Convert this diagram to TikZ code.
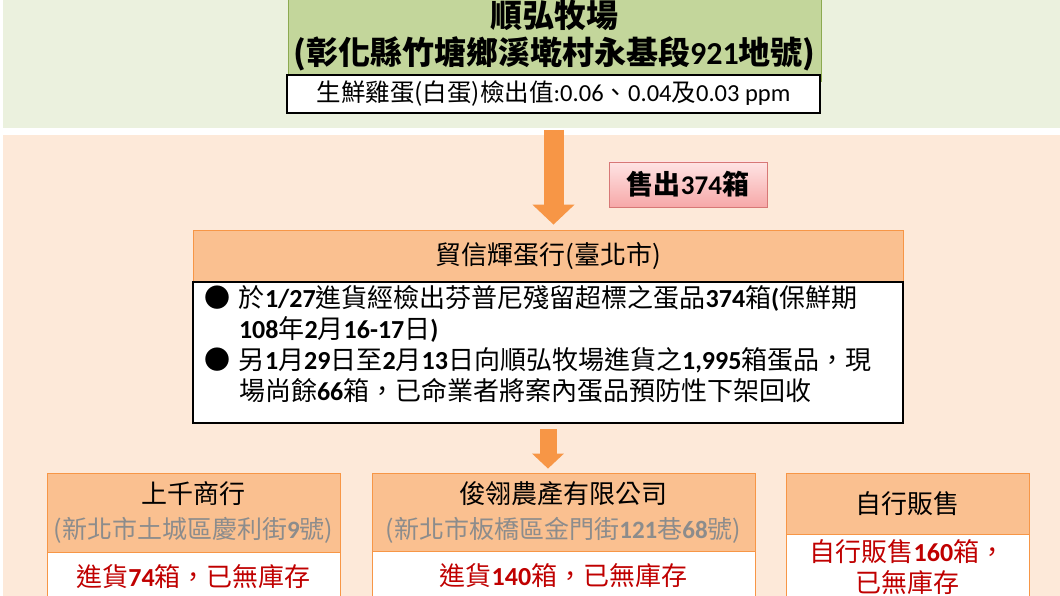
\documentclass[tikz,border=0pt]{standalone}
\usepackage{fontspec}
\setmainfont{Noto Sans CJK TC}[Script=CJK, Language=Chinese Traditional]
\newfontfamily\latfont{Carlito}
\usetikzlibrary{arrows.meta}

\definecolor{bandgreen}{RGB}{235,241,222}
\definecolor{bandpeach}{RGB}{253,233,217}
\definecolor{farmfill}{RGB}{195,214,155}
\definecolor{farmedge}{RGB}{140,170,80}
\definecolor{orangefill}{RGB}{250,192,144}
\definecolor{orangeedge}{RGB}{247,150,70}
\definecolor{pinktop}{RGB}{255,228,228}
\definecolor{pinkbot}{RGB}{246,168,168}
\definecolor{pinkedge}{RGB}{215,120,118}
\definecolor{redtext}{RGB}{192,0,0}
\definecolor{graytext}{RGB}{140,140,140}

\newcommand{\digb}[1]{{\latfont\bfseries #1}}
\newcommand{\digr}[1]{{\latfont #1}}

\begin{document}
\begin{tikzpicture}[x=1pt, y=-1pt,
    headbox/.style={draw=orangeedge, fill=orangefill, line width=0.8pt, inner sep=0pt, align=center},
    notebox/.style={draw=orangeedge, fill=white, line width=0.8pt, inner sep=0pt, align=center, text=redtext, font=\fontsize{26}{31}\selectfont},
    framebox/.style={draw=black, fill=white, line width=2pt, inner sep=0pt}
  ]
    \useasboundingbox (0,0) rectangle (1060,596);
    \clip (0,0) rectangle (1060,596);

    % background bands
    \fill[bandgreen] (3,0) rectangle (1060,128);
    \fill[bandpeach] (3,135) rectangle (1060,596);

    % farm
    \node[draw=farmedge, fill=farmfill, line width=0.8pt, minimum width=533pt, minimum height=91pt, align=center, font=\fontsize{32}{37}\selectfont\bfseries] (farm) at (554.5,35.5) {順弘牧場\\(彰化縣竹塘鄉溪墘村永基段\digb{921}地號)};
    \node[framebox, minimum width=533pt, minimum height=38pt, font=\fontsize{24.5}{28}\selectfont] (farmval) at (553.5,94) {生鮮雞蛋(白蛋)檢出值\digr{:0.06}、\digr{0.04}及\digr{0.03 ppm}};

    \node[draw=pinkedge, top color=pinktop, bottom color=pinkbot, line width=0.8pt, minimum width=158pt, minimum height=45pt, inner sep=0pt, font=\fontsize{27}{30}\selectfont\bfseries] (sold) at (688,184.5) {售出\digb{374}箱};

    % trader
    \node[headbox, minimum width=710pt, minimum height=52pt, font=\fontsize{26}{30}\selectfont] (trader) at (548,256) {貿信輝蛋行(臺北市)};
    \node[framebox, minimum width=710pt, minimum height=141pt, text width=688pt, inner xsep=11pt, align=left, font=\fontsize{26}{30.5}\selectfont] (traderinfo) at (548,352.5) {%
        \vspace*{10pt}%
        \begin{tabular}{@{}l@{\hspace{9pt}}l@{}}
        ● & 於\digb{1/27}進貨經檢出芬普尼殘留超標之蛋品\digb{374}箱\digb{(}保鮮期\\
          & \digb{108}年\digb{2}月\digb{16-17}日\digb{)}\\
        ● & 另\digb{1}月\digb{29}日至\digb{2}月\digb{13}日向順弘牧場進貨之\digb{1,995}箱蛋品，現\\
          & 場尚餘\digb{66}箱，已命業者將案內蛋品預防性下架回收
        \end{tabular}};

    % buyers
    \node[notebox, minimum width=293pt, minimum height=50pt] (buyAnote) at (193.5,577) {進貨\digb{74}箱，已無庫存};
    \node[headbox, minimum width=293pt, minimum height=79pt, font=\fontsize{25}{35}\selectfont] (buyA) at (193.5,512.5) {{\fontsize{26}{35}\selectfont 上千商行}\\{\color{graytext}(新北市土城區慶利街\digb{9}號)}};

    \node[notebox, minimum width=383pt, minimum height=50pt] (buyBnote) at (563.5,576) {進貨\digb{140}箱，已無庫存};
    \node[headbox, minimum width=383pt, minimum height=78pt, font=\fontsize{25}{35}\selectfont] (buyB) at (563.5,512) {{\fontsize{26}{35}\selectfont 俊翎農產有限公司}\\{\color{graytext}(新北市板橋區金門街\digb{121}巷\digb{68}號)}};

    \node[notebox, minimum width=243pt, minimum height=66pt] (buyCnote) at (907.5,567) {自行販售\digb{160}箱，\\已無庫存};
    \node[headbox, minimum width=243pt, minimum height=61pt, font=\fontsize{26}{30}\selectfont] (buyC) at (907.5,503.5) {自行販售};

    % arrows
    \draw[orangeedge, line width=20pt, -{Triangle[length=20pt, width=41pt]}, shorten <=16pt, shorten >=5pt] (farmval.south) -- (farmval.south |- trader.north);
    \draw[orangeedge, line width=17pt, -{Triangle[length=15pt, width=31pt]}, shorten <=5pt, shorten >=4pt] (traderinfo.south) -- (traderinfo.south |- buyB.north);
\end{tikzpicture}
\end{document}
